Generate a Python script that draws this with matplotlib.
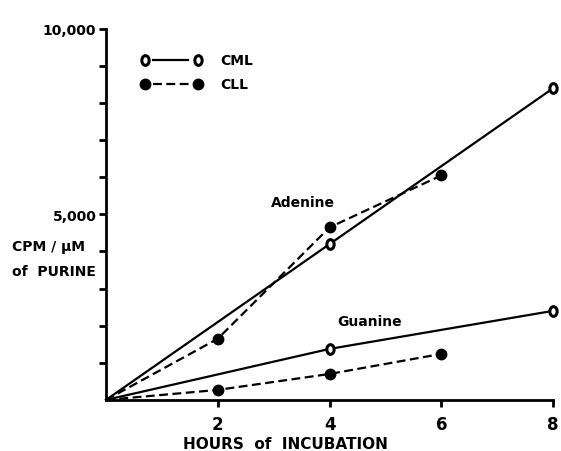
import numpy as np
import matplotlib
matplotlib.use('Agg')
import matplotlib.pyplot as plt
from matplotlib.path import Path
from matplotlib.transforms import Affine2D

# Data (hours, CPM per uM of purine)
ade_cml_h = [0, 4, 8]
ade_cml_v = [0, 4200, 8400]
ade_cll_h = [0, 2, 4, 6]
ade_cll_v = [0, 1650, 4650, 6050]
gua_cml_h = [0, 4, 8]
gua_cml_v = [0, 1375, 2400]
gua_cll_h = [0, 2, 4, 6]
gua_cll_v = [0, 270, 700, 1240]

xticks = [2, 4, 6, 8]
yticks = list(range(1000, 10001, 1000))
ylabels = {5000: '5,000', 10000: '10,000'}

# slightly tall open "o" marker like the original
oval = Path.unit_circle().transformed(Affine2D().scale(0.75, 1.0))

fig = plt.figure(figsize=(5.61, 4.52), dpi=100)
ax = fig.add_axes([0.189, 0.113, 0.797, 0.821])

lw = 1.6
dash = (0, (4, 2))
open_kw = dict(marker=oval, ms=7, mfc='white', mec='black', mew=2.2, markevery=[1, 2])
fill_kw = dict(marker='o', ms=7.5, mfc='black', mec='black', markevery=[1, 2, 3])

ax.plot(ade_cml_h, ade_cml_v, '-', color='black', lw=lw, **open_kw)
ax.plot(ade_cll_h, ade_cll_v, color='black', lw=lw, ls=dash, **fill_kw)
ax.plot(gua_cml_h, gua_cml_v, '-', color='black', lw=lw, **open_kw)
ax.plot(gua_cll_h, gua_cll_v, color='black', lw=lw, ls=dash, **fill_kw)

ax.set_xlim(0, 8)
ax.set_ylim(0, 10000)
for s in ['top', 'right']:
    ax.spines[s].set_visible(False)
for s in ['left', 'bottom']:
    ax.spines[s].set_linewidth(2)

ax.set_xticks(xticks)
ax.set_xticklabels([str(t) for t in xticks], fontsize=12, fontweight='bold')
ax.set_yticks(yticks)
ax.set_yticklabels([ylabels.get(t, '') for t in yticks], fontsize=10, fontweight='bold')
ax.tick_params(axis='both', direction='out', length=5, width=2, pad=2)
ax.tick_params(axis='x', pad=6)
for c in ax.get_children():
    c.set_clip_on(False)

fig.text(0.508, 0.017, 'HOURS  of  INCUBATION', ha='center', va='center',
         fontsize=11, fontweight='bold')
fig.text(0.022, 0.453, 'CPM / \u00b5M', ha='left', va='center', fontsize=10, fontweight='bold')
fig.text(0.022, 0.398, 'of  PURINE', ha='left', va='center', fontsize=10, fontweight='bold')

ax.text(3.52, 5340, 'Adenine', ha='center', va='center', fontsize=10, fontweight='bold')
ax.text(4.72, 2130, 'Guanine', ha='center', va='center', fontsize=10, fontweight='bold')

# hand-drawn style legend in the upper left
mx = [0.7, 1.65]
ax.plot([0.84, 1.47], [9150, 9150], '-', color='black', lw=lw)
ax.plot(mx, [9150, 9150], ls='none', marker=oval, ms=7, mfc='white', mec='black', mew=2.2)
ax.plot([0.84, 1.5], [8520, 8520], color='black', lw=lw, ls=dash)
ax.plot(mx, [8520, 8520], ls='none', marker='o', ms=7.5, mfc='black', mec='black')
ax.text(2.05, 9150, 'CML', ha='left', va='center', fontsize=10, fontweight='bold')
ax.text(2.05, 8520, 'CLL', ha='left', va='center', fontsize=10, fontweight='bold')

fig.savefig('out.png', dpi=100)
